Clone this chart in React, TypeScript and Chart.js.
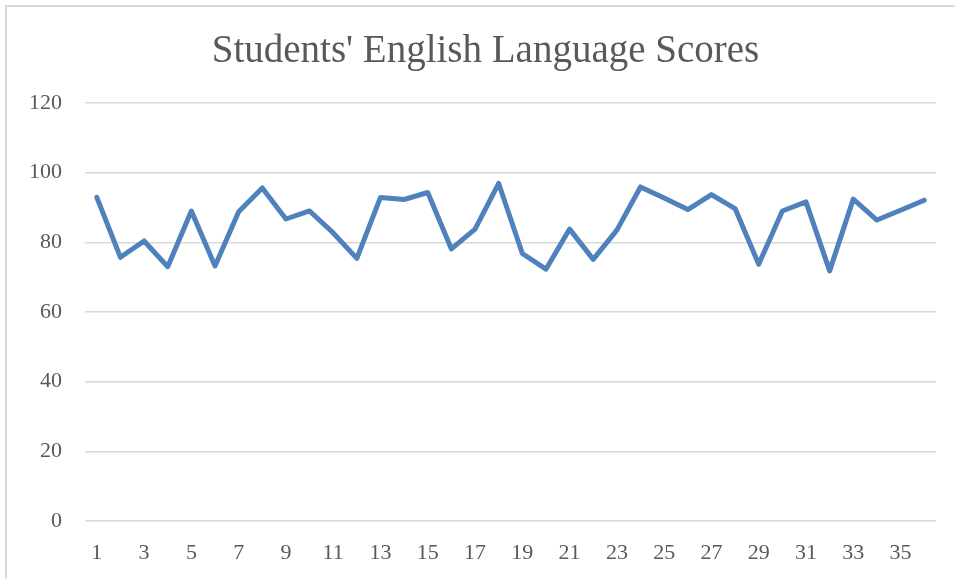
import React, { useEffect, useRef } from "react";
import { Chart, registerables } from "chart.js";

Chart.register(...registerables);

const chartTitle = "Students' English Language Scores";
const studentNumbers: string[] = Array.from({ length: 36 }, (_, i) => String(i + 1));
const scores: number[] = [
  92.9, 75.7, 80.4, 73.0, 89.0, 73.2, 88.8, 95.6, 86.7, 89.0,
  82.7, 75.4, 92.9, 92.3, 94.3, 78.1, 83.8, 96.9, 76.8, 72.3,
  83.8, 75.1, 83.5, 95.9, 92.7, 89.4, 93.7, 89.7, 73.7, 89.0,
  91.6, 71.8, 92.4, 86.4, 89.2, 92.1,
];
const yMin = 0;
const yMax = 120;
const yStep = 20;

const FONT = "'Liberation Serif', serif";
const TEXT = "#595959";
const GRID = "#d9d9d9";

const framePlugin = {
  id: "frame",
  beforeDraw(chart: any) {
    const { ctx, width, height } = chart;
    ctx.save();
    ctx.fillStyle = "#ffffff";
    ctx.fillRect(0, 0, width, height);
    ctx.fillStyle = GRID;
    ctx.fillRect(5, 5, width - 5, 2);
    ctx.fillRect(5, 5, 2, height - 5);
    ctx.restore();
  },
};

const titlePlugin = {
  id: "centeredTitle",
  afterDraw(chart: any) {
    const { ctx } = chart;
    ctx.save();
    ctx.fillStyle = TEXT;
    ctx.font = `normal 39px ${FONT}`;
    ctx.textAlign = "center";
    ctx.textBaseline = "alphabetic";
    ctx.fillText(chartTitle, 485.5, 62);
    ctx.restore();
  },
};

export default function App() {
  const ref = useRef<HTMLCanvasElement | null>(null);
  useEffect(() => {
    document.body.style.margin = "0";
    if (!ref.current) return;
    const chart = new Chart(ref.current, {
      type: "line",
      data: {
        labels: studentNumbers,
        datasets: [
          {
            data: scores,
            borderColor: "#4f81bd",
            backgroundColor: "#4f81bd",
            borderWidth: 5,
            pointRadius: 0,
            tension: 0,
            borderJoinStyle: "round",
            borderCapStyle: "round",
          },
        ],
      },
      options: {
        animation: false,
        responsive: false,
        devicePixelRatio: 1,
        layout: { padding: { left: 0, right: 19, top: 103, bottom: 12 } },
        plugins: {
          legend: { display: false },
          tooltip: { enabled: false },
          title: { display: false },
        },
        scales: {
          x: {
            offset: true,
            grid: { display: false, drawTicks: false },
            border: { display: false },
            ticks: {
              autoSkip: false,
              maxRotation: 0,
              color: TEXT,
              font: { family: FONT, size: 22 },
              padding: 19,
              callback: (_v: any, i: number) => (i % 2 === 0 ? studentNumbers[i] : ""),
            },
            afterFit: (scale: any) => {
              scale.height = 46;
            },
          },
          y: {
            min: yMin,
            max: yMax,
            grid: { color: GRID, lineWidth: 1.5, drawTicks: false },
            border: { display: false },
            ticks: {
              stepSize: yStep,
              color: TEXT,
              font: { family: FONT, size: 22 },
              padding: 23,
            },
            afterFit: (scale: any) => {
              scale.width = 85;
            },
          },
        },
      },
      plugins: [framePlugin, titlePlugin],
    });
    return () => chart.destroy();
  }, []);
  return <canvas ref={ref} width={955} height={579} style={{ display: "block" }} />;
}
